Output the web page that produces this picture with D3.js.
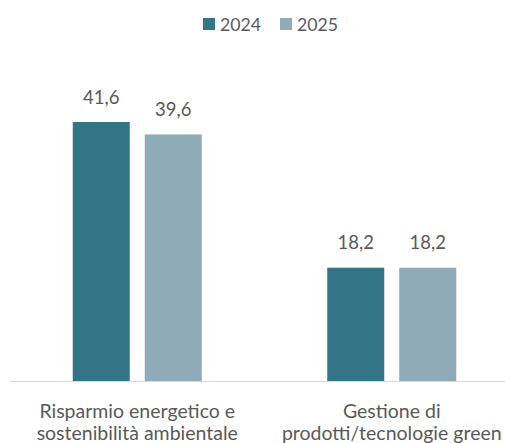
<!DOCTYPE html>
<html><head><meta charset="utf-8">
<script src="https://cdn.jsdelivr.net/npm/d3@7"></script>
<style>body{margin:0;background:#fff}svg{display:block}text{font-family:Lato,"Open Sans",sans-serif;fill:#595959}</style>
</head><body><svg id="c" width="505" height="443"></svg>
<script>
const categories = [["Risparmio energetico e","sostenibilità ambientale"],["Gestione di","prodotti/tecnologie green"]];
const seriesNames = ["2024","2025"];
const values2024 = [41.6, 18.2];
const values2025 = [39.6, 18.2];
const colors = ["#337486","#8FABB7"];

const svg = d3.select("#c");
const base = 381;
const x0 = d3.scaleBand().domain(d3.range(categories.length)).range([10, 519]);
const x1 = d3.scaleOrdinal().domain(seriesNames).range([-64.5, 7.5]);
const y = d3.scaleLinear().domain([0, 41.6]).range([base, 122]);
const fmt = v => d3.format(".1f")(v).replace(".", ",");
const series = [values2024, values2025];
const bw = 57;

series.forEach((vals, si) => {
  const g = svg.append("g");
  g.selectAll("rect").data(vals).join("rect")
    .attr("x", (d,i) => x0(i) + x0.bandwidth()/2 + x1(seriesNames[si]))
    .attr("y", d => y(d))
    .attr("width", bw)
    .attr("height", d => base - y(d))
    .attr("fill", colors[si]);
  g.selectAll("text").data(vals).join("text")
    .attr("x", (d,i) => x0(i) + x0.bandwidth()/2 + x1(seriesNames[si]) + bw/2)
    .attr("y", d => y(d) - 18.5)
    .attr("text-anchor","middle")
    .style("font-size","18.5px")
    .text(fmt);
});

svg.append("line").attr("x1",10).attr("x2",505).attr("y1",base+0.5).attr("y2",base+0.5)
  .attr("stroke","#D9D9D9").attr("stroke-width",1);

categories.forEach((lines, i) => {
  const t = svg.append("text").attr("text-anchor","middle").style("font-size","19.5px");
  lines.forEach((l, j) => {
    t.append("tspan").attr("x", x0(i) + x0.bandwidth()/2).attr("y", 417.5 + j*22.5).text(l);
  });
});

const leg = svg.append("g");
const lx = [203, 280];
seriesNames.forEach((s, i) => {
  leg.append("rect").attr("x", lx[i]).attr("y", 18).attr("width", 12).attr("height", 12).attr("fill", colors[i]);
  leg.append("text").attr("x", lx[i] + 17).attr("y", 31).style("font-size","17.7px").text(s);
});
</script></body></html>
